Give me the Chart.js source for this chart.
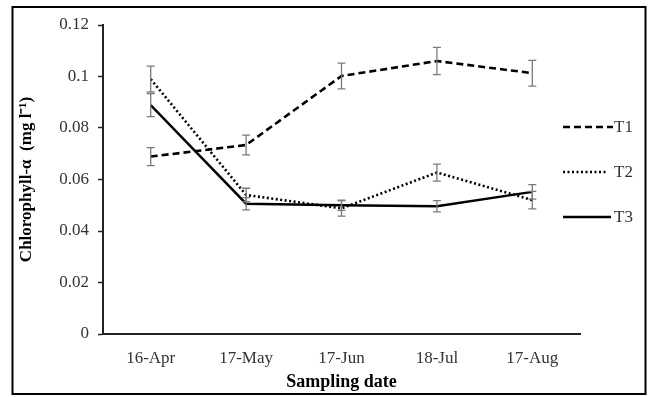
<!DOCTYPE html>
<html>
<head>
<meta charset="utf-8">
<script src="https://cdn.jsdelivr.net/npm/chart.js@4/dist/chart.umd.min.js"></script>
<style>
  html, body { margin: 0; padding: 0; background: #fff; }
  #wrap { width: 656px; height: 397px; position: relative; }
</style>
</head>
<body>
<div id="wrap"><canvas id="chl"></canvas></div>
<script>
// values
const dates = ['16-Apr', '17-May', '17-Jun', '18-Jul', '17-Aug'];
const t1 = [0.0689, 0.0734, 0.1002, 0.1060, 0.1013];
const t1Err = [0.0035, 0.0038, 0.0050, 0.0053, 0.0050];
const t2 = [0.0990, 0.0540, 0.0488, 0.0627, 0.0520];
const t2Err = [0.0050, 0.0026, 0.0030, 0.0033, 0.0034];
const t3 = [0.0889, 0.0506, 0.0500, 0.0496, 0.0552];
const t3Err = [0.0045, 0.0024, 0.0020, 0.0022, 0.0028];
const yTicks = [0, 0.02, 0.04, 0.06, 0.08, 0.1, 0.12];

const serif = '"Liberation Serif", "Times New Roman", serif';

// error bars + right-hand legend + outer frame
const extras = {
    id: 'extras',
    afterDatasetsDraw(chart) {
        const ctx = chart.ctx;
        const x = chart.scales.x, y = chart.scales.y;
        ctx.save();
        ctx.strokeStyle = '#7a7a7a';
        ctx.lineWidth = 1.3;
        chart.data.datasets.forEach(ds => {
            ds.data.forEach((v, i) => {
                const px = x.getPixelForValue(i);
                const top = y.getPixelForValue(v + ds.err[i]);
                const bot = y.getPixelForValue(v - ds.err[i]);
                ctx.beginPath();
                ctx.moveTo(px, top); ctx.lineTo(px, bot);
                ctx.moveTo(px - 4, top); ctx.lineTo(px + 4, top);
                ctx.moveTo(px - 4, bot); ctx.lineTo(px + 4, bot);
                ctx.stroke();
            });
        });
        ctx.restore();
    },
    afterDraw(chart) {
        const ctx = chart.ctx;
        ctx.save();
        const rows = [127, 172, 217];
        const ends = [613, 608, 611];
        chart.data.datasets.forEach((ds, i) => {
            ctx.strokeStyle = '#000';
            ctx.lineWidth = ds.borderWidth;
            ctx.setLineDash(ds.borderDash || []);
            ctx.beginPath();
            ctx.moveTo(563, rows[i]); ctx.lineTo(ends[i], rows[i]);
            ctx.stroke();
            ctx.setLineDash([]);
            ctx.fillStyle = '#333';
            ctx.font = '17px ' + serif;
            ctx.textBaseline = 'middle';
            ctx.fillText(ds.label, 614, rows[i] + 1);
        });
        ctx.lineWidth = 2;
        ctx.strokeStyle = '#000';
        ctx.strokeRect(12.5, 7, 633, 387);
        ctx.restore();
    }
};

new Chart(document.getElementById('chl'), {
    type: 'line',
    data: {
        labels: dates,
        datasets: [
            { label: 'T1', data: t1, err: t1Err, borderColor: '#000', borderWidth: 2.6, borderDash: [7, 4], pointRadius: 0, tension: 0 },
            { label: 'T2', data: t2, err: t2Err, borderColor: '#000', borderWidth: 2.6, borderDash: [2, 2.5], pointRadius: 0, tension: 0 },
            { label: 'T3', data: t3, err: t3Err, borderColor: '#000', borderWidth: 2.4, pointRadius: 0, tension: 0 }
        ]
    },
    options: {
        responsive: true,
        maintainAspectRatio: false,
        animation: false,
        layout: { padding: { left: 14, right: 76, top: 25, bottom: 4 } },
        plugins: { legend: { display: false }, tooltip: { enabled: false } },
        scales: {
            x: {
                offset: true,
                grid: { display: true, drawOnChartArea: false, drawTicks: false },
                border: { color: '#222', width: 2 },
                ticks: { color: '#333', padding: 14, font: { family: serif, size: 17 } },
                title: { display: true, text: 'Sampling date', color: '#000', padding: { top: 2, bottom: 0 }, font: { family: serif, size: 18, weight: 'bold' } },
                afterFit(s) { s.height = 59; }
            },
            y: {
                min: 0, max: 0.12,
                afterBuildTicks(s) { s.ticks = yTicks.map(v => ({ value: v })); },
                grid: { drawOnChartArea: false, drawTicks: true, tickLength: 5, color: '#222', tickWidth: 1.5 },
                border: { color: '#222', width: 2 },
                ticks: { color: '#333', padding: 9, font: { family: serif, size: 17 }, callback: v => String(v) },
                title: { display: true, text: 'Chlorophyll-α  (mg l⁻¹)', color: '#000', padding: 2, font: { family: serif, size: 17, weight: 'bold' } },
                afterFit(s) { s.width = 89; }
            }
        }
    },
    plugins: [extras]
});
</script>
</body>
</html>
